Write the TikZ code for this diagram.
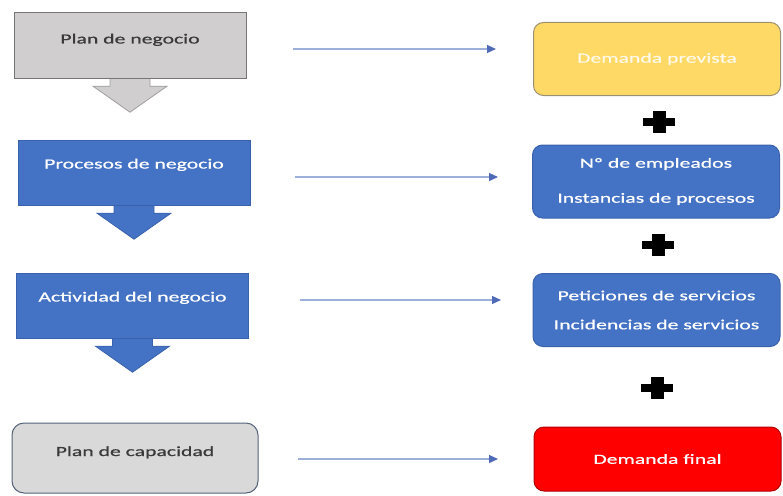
\documentclass[tikz,border=0pt]{standalone}
\usepackage{fontspec}
\setmainfont[FakeStretch=1.55,FakeBold=0.7]{Carlito}
\usetikzlibrary{arrows.meta,calc}

\definecolor{boxblue}{HTML}{4472C4}
\definecolor{boxblueedge}{HTML}{3A62AC}
\definecolor{planfill}{HTML}{D0CECE}
\definecolor{planedge}{HTML}{767676}
\definecolor{capfill}{HTML}{D9D9D9}
\definecolor{capedge}{HTML}{56627A}
\definecolor{demyellow}{HTML}{FFD966}
\definecolor{demyellowedge}{HTML}{9A9070}
\definecolor{demred}{HTML}{FF0000}
\definecolor{demrededge}{HTML}{B00000}
\definecolor{darktext}{HTML}{3A3A3A}
\definecolor{linkline}{HTML}{9DB0DA}
\definecolor{linkhead}{HTML}{4F6BB8}

\tikzset{
  base/.style={font=\fontsize{14pt}{17pt}\selectfont, inner sep=0pt, line width=1pt, align=center},
  leftbox/.style={base, minimum width=232pt, minimum height=65pt},
  graybox/.style={leftbox, fill=planfill, draw=planedge, text=darktext},
  bluebox/.style={leftbox, fill=boxblue, draw=boxblueedge, text=white},
  rightbox/.style={base, rounded corners=10pt, minimum width=247pt, minimum height=73pt},
  yellowbox/.style={rightbox, fill=demyellow, draw=demyellowedge, text=white!85!demyellow},
  blueround/.style={rightbox, fill=boxblue, draw=boxblueedge, text=white},
  redbox/.style={rightbox, fill=demred, draw=demrededge, text=white},
  capbox/.style={base, rounded corners=12pt, minimum width=246pt, minimum height=70pt,
    fill=capfill, draw=capedge, text=darktext},
  grayarrow/.style={fill=planfill, draw=planedge!70, line width=0.8pt},
  bluearrow/.style={fill=boxblue, draw=boxblueedge, line width=0.8pt},
  flowline/.style={draw=linkline, line width=1.3pt,
    -{Triangle[length=9pt,width=8pt,color=linkhead]}},
  plussign/.style={minimum width=32pt, minimum height=22pt, inner sep=0pt,
    path picture={
      \fill[black] ([yshift=-4pt]path picture bounding box.west) rectangle
                   ([yshift=4pt]path picture bounding box.east);
      \fill[black] ([xshift=-6.5pt]path picture bounding box.south) rectangle
                   ([xshift=6.5pt]path picture bounding box.north);
    }},
}

% block arrow hanging below a box
\newcommand{\blockdown}[2]{%
  \path[#2] ($(#1.south)+(-20,-3)$) -- ++(0,11) -- ++(-17,0) -- ++(37,26)
    -- ++(37,-26) -- ++(-17,0) -- ++(0,-11) -- cycle;}

\begin{document}
\begin{tikzpicture}[x=1pt,y=-1pt]
\useasboundingbox (0,0) rectangle (783,495);
\fill[white] (0,0) rectangle (783,495);

% left column
\coordinate (pos1) at (130,45.5);
\coordinate (pos2) at (134,172.5);
\coordinate (pos3) at (132.5,305.5);

\path (pos1) node[minimum width=232pt, minimum height=65pt] (plan) {};
\path (pos2) node[minimum width=232pt, minimum height=65pt] (proc) {};
\path (pos3) node[minimum width=232pt, minimum height=65pt] (act) {};

\blockdown{plan}{grayarrow}
\blockdown{proc}{bluearrow}
\blockdown{act}{bluearrow}

\node[graybox, text height=10pt, text depth=14pt] (plan) at (pos1) {Plan de negocio};
\node[bluebox, text height=10pt, text depth=18pt] (proc) at (pos2) {Procesos de negocio};
\node[bluebox, text height=10pt, text depth=18pt] (act) at (pos3) {Actividad del negocio};
\node[capbox, text height=10pt, text depth=14pt] (cap) at (135,458) {Plan de capacidad};

% right column
\node[yellowbox] (prev) at (657,59) {Demanda prevista};
\node[blueround] (emp) at (656,181.5) {Nº de empleados\\[18pt]Instancias de procesos};
\node[blueround] (serv) at (656.5,310) {Peticiones de servicios\\[12pt]Incidencias de servicios};
\node[redbox, minimum height=64pt] (final) at (657.5,459) {Demanda final};

% plus signs between the demand boxes
\node[plussign] (plusA) at (659,122) {};
\node[plussign] (plusB) at (658,245) {};
\node[plussign] (plusC) at (657,388) {};

% links from the left column to the right column
\coordinate (l1s) at (293,49);  \coordinate (l1e) at (496,49);
\coordinate (l2s) at (295,177); \coordinate (l2e) at (498,177);
\coordinate (l3s) at (300,300); \coordinate (l3e) at (501,300);
\coordinate (l4s) at (298,459); \coordinate (l4e) at (498,459);
\draw[flowline] (l1s) -- (l1e);
\draw[flowline] (l2s) -- (l2e);
\draw[flowline] (l3s) -- (l3e);
\draw[flowline] (l4s) -- (l4e);
\end{tikzpicture}
\end{document}
